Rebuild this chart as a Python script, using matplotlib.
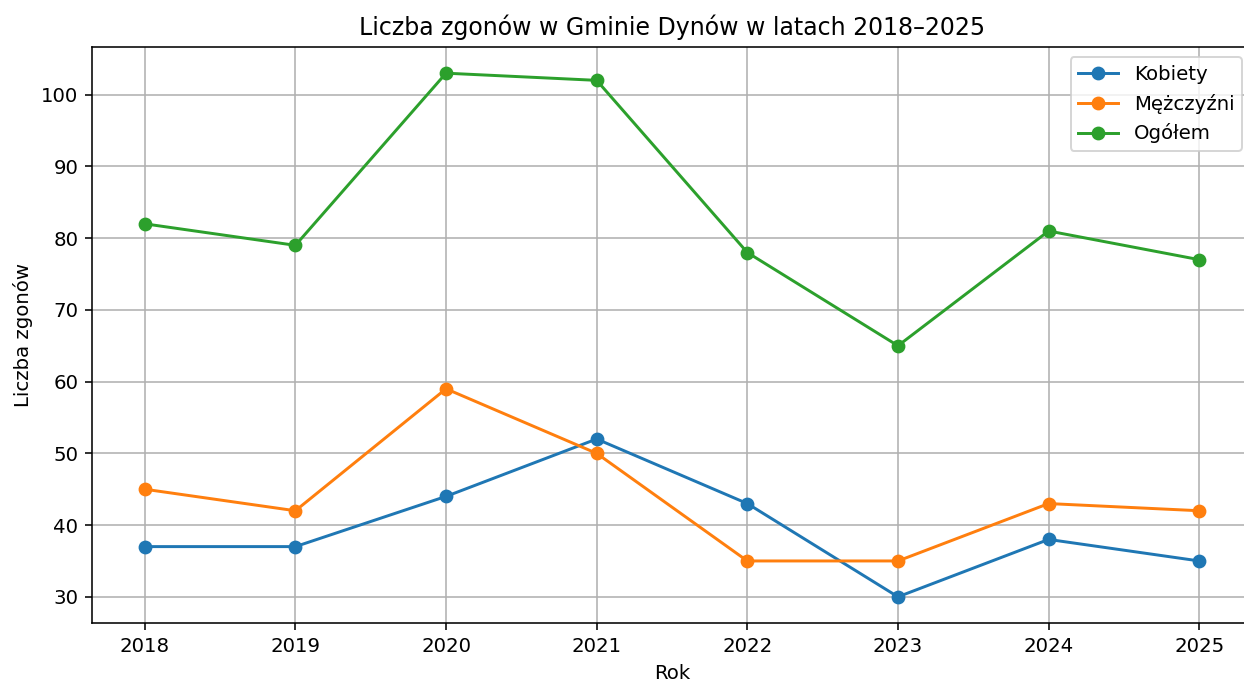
import matplotlib
matplotlib.use("Agg")
import matplotlib.pyplot as plt

years = [2018, 2019, 2020, 2021, 2022, 2023, 2024, 2025]
kobiety = [37, 37, 44, 52, 43, 30, 38, 35]
mezczyzni = [45, 42, 59, 50, 35, 35, 43, 42]
ogolem = [82, 79, 103, 102, 78, 65, 81, 77]

DPI = 142
W, H = 1244, 684
fig = plt.figure(figsize=(W / DPI, H / DPI), dpi=DPI)
ax = fig.add_axes([92 / W, 1 - 623 / H, (1252 - 92) / W, (623 - 47) / H])
ax.plot(years, kobiety, marker='o', label='Kobiety')
ax.plot(years, mezczyzni, marker='o', label='Mężczyźni')
ax.plot(years, ogolem, marker='o', label='Ogółem')
ax.set_title('Liczba zgonów w Gminie Dynów w latach 2018–2025')
ax.set_xlabel('Rok')
ax.set_ylabel('Liczba zgonów')
ax.legend()
ax.grid(True)
fig.savefig('out.png', dpi=DPI)
